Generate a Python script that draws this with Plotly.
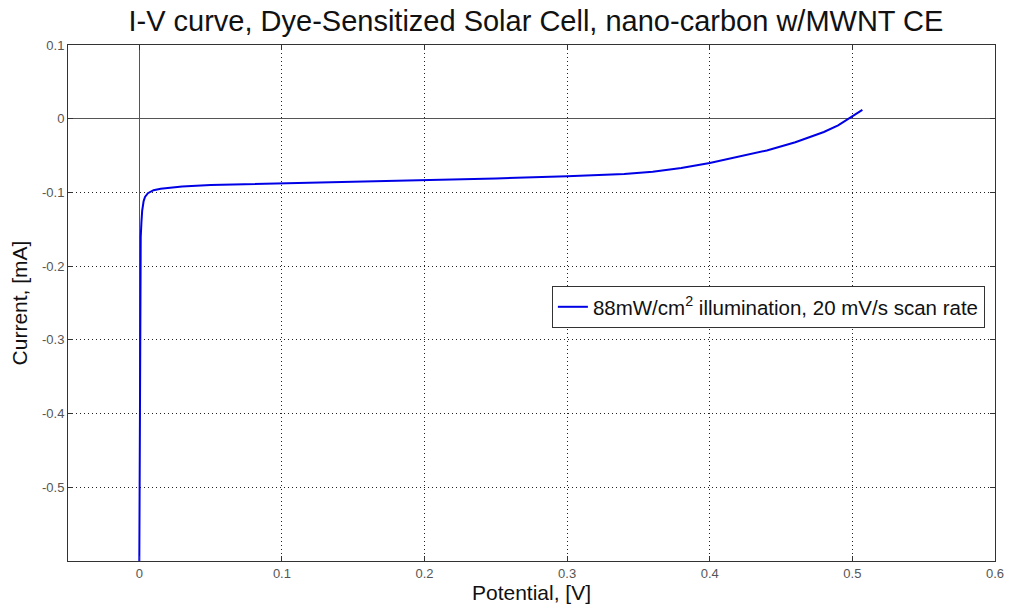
import plotly.graph_objects as go

# Measured I-V sweep of the DSSC (potential in V, current in mA)
potential_v = [0.0, 0.0003, 0.0006, 0.001, 0.0015, 0.002, 0.003, 0.004, 0.006,
               0.01, 0.015, 0.02, 0.03, 0.05, 0.075, 0.1, 0.15, 0.2, 0.25,
               0.3, 0.32, 0.34, 0.36, 0.38, 0.4, 0.42, 0.44, 0.46, 0.47,
               0.48, 0.49, 0.495, 0.5, 0.507]
current_ma = [-0.6, -0.41, -0.21, -0.16, -0.14, -0.125, -0.112, -0.106, -0.101,
              -0.097, -0.095, -0.094, -0.092, -0.090, -0.089, -0.087, -0.085,
              -0.083, -0.081, -0.078, -0.077, -0.075, -0.072, -0.067, -0.060,
              -0.052, -0.043, -0.032, -0.025, -0.018, -0.009, -0.003, 0.003,
              0.012]

x_ticks = [0, 0.1, 0.2, 0.3, 0.4, 0.5, 0.6]
y_ticks = [-0.5, -0.4, -0.3, -0.2, -0.1, 0, 0.1]

trace_name = "88mW/cm<sup>2</sup> illumination, 20 mV/s scan rate"
title_text = "I-V curve, Dye-Sensitized Solar Cell, nano-carbon w/MWNT CE"

FONT = "Liberation Sans, Arial, Helvetica"

fig = go.Figure()
fig.add_trace(go.Scatter(
    x=potential_v, y=current_ma, mode="lines", name=trace_name,
    line=dict(color="#0000e6", width=2),
))

axis_common = dict(
    showline=True, linecolor="#333333", linewidth=1, mirror="ticks",
    ticks="inside", ticklen=5, tickcolor="#333333",
    showgrid=True, gridcolor="#222222", gridwidth=1, griddash="1px,3px",
    zeroline=True, zerolinecolor="#555555", zerolinewidth=1.3,
    tickfont=dict(family=FONT, size=13, color="#555555"),
)

fig.update_layout(
    width=1015, height=611,
    margin=dict(l=68, r=11, t=45, b=48),
    paper_bgcolor="white", plot_bgcolor="white",
    title=dict(text=title_text, x=0.528, xanchor="center", y=0.966, yanchor="middle",
               font=dict(family=FONT, size=29, color="#111111")),
    xaxis=dict(range=[-0.05, 0.6], tickvals=x_ticks,
               ticktext=[("%g" % v) for v in x_ticks],
               title=dict(text="Potential, [V]", standoff=5,
                          font=dict(family=FONT, size=21, color="#111111")),
               **axis_common),
    yaxis=dict(range=[-0.6, 0.1], tickvals=y_ticks,
               ticktext=[("%g" % v) for v in y_ticks],
               title=dict(text="Current, [mA]", standoff=8,
                          font=dict(family=FONT, size=21, color="#111111")),
               **axis_common),
    showlegend=True,
    legend=dict(x=0.522, y=0.533, xanchor="left", yanchor="top",
                bgcolor="white", bordercolor="#333333", borderwidth=1,
                font=dict(family=FONT, size=20.5, color="#111111")),
)

fig.write_html("out.html")
